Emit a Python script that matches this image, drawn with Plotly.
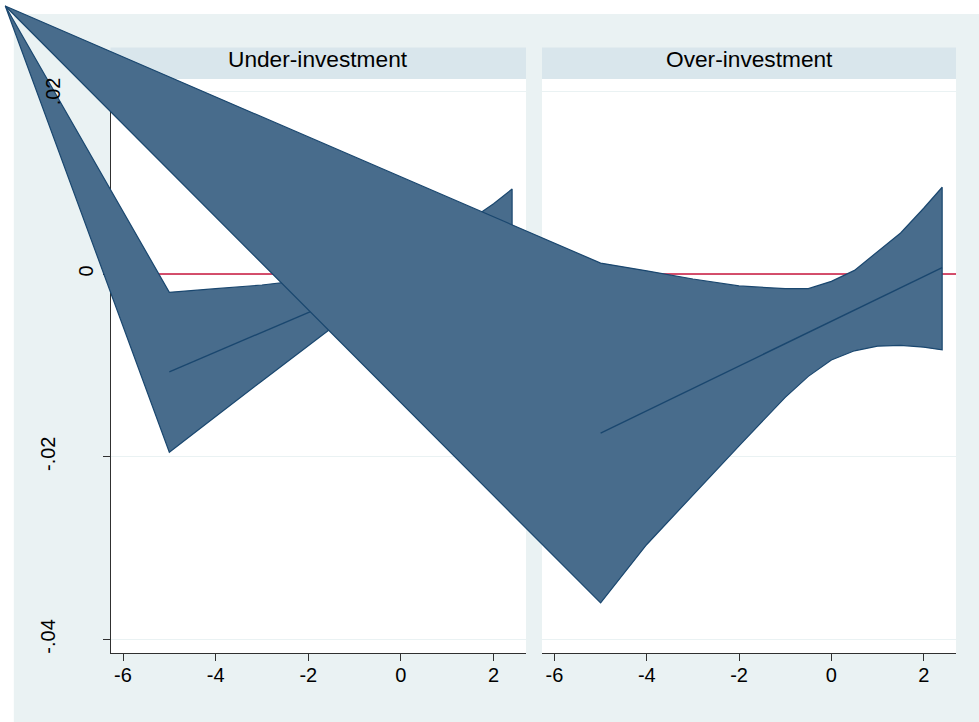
import plotly.graph_objects as go

W, H = 979, 722

# ---------------- data ----------------
panel_titles = ["Under-investment", "Over-investment"]
x_ticks = [-6, -4, -2, 0, 2]
x_tick_labels = ["-6", "-4", "-2", "0", "2"]
y_ticks = [0.02, 0, -0.02, -0.04]
y_tick_labels = [".02", "0", "-.02", "-.04"]
ref_line_y = 0

under_x = [-5, -4, -3, -2, -1, 0, 1, 2, 2.4]
under_upper = [-0.0020, -0.0016, -0.0012, -0.0006, -0.0002, 0.0010, 0.0042, 0.0077, 0.0093]
under_lower = [-0.0195, -0.0156, -0.0117, -0.0078, -0.0040, -0.0008, 0.0004, 0.0008, 0.0010]
under_fit_x = [-5, 2.4]
under_fit = [-0.0107, 0.0053]

over_x = [-5, -4, -3, -2, -1, -0.5, 0, 0.5, 1, 1.5, 2, 2.4]
over_upper = [0.0012, 0.00035, -0.00054, -0.0013, -0.0016, -0.0016, -0.0008, 0.0004, 0.0024, 0.0045, 0.0072, 0.0095]
over_lower = [-0.0360, -0.0296, -0.0242, -0.0188, -0.0135, -0.0112, -0.0094, -0.0084, -0.0079, -0.0078, -0.0080, -0.0083]
over_fit_x = [-5, 2.4]
over_fit = [-0.0174, 0.0007]

# stray first vertex of each band polygon (export glitch), in each panel's data units
under_stray_x, under_stray_y = -8.541, 0.02934
over_stray_x, over_stray_y = -17.90, 0.02934

# ---------------- style / layout ----------------
REGION = "#EAF2F3"
STRIP = "#D9E6EC"
FILL = "#486C8C"
EDGE = "#1A476F"
REDLINE = "#C8143C"
AXIS = "#303030"
FONT = "Liberation Sans, Arial, sans-serif"

x_range = [-6.27, 2.70]
y_range = [-0.04148, 0.02135]


def px_x(p):
    return p / W


def px_y(p):
    return 1 - p / H


dom_left = [px_x(110.5), px_x(526)]
dom_right = [px_x(542), px_x(956)]
dom_y = [px_y(653), px_y(79)]
strip_y = [px_y(79), px_y(47.5)]


def extend(r, d):
    span = (r[1] - r[0]) / (d[1] - d[0])
    return [r[0] - d[0] * span, r[1] + (1 - d[1]) * span]


fig = go.Figure()

# reference line y = 0 in each panel (drawn below the bands)
for xa, ya in (("x", "y"), ("x2", "y2")):
    fig.add_trace(go.Scatter(x=x_range, y=[ref_line_y, ref_line_y], xaxis=xa, yaxis=ya, mode="lines",
                             line=dict(color=REDLINE, width=1.5), showlegend=False, hoverinfo="skip"))
# empty trace so the extra label axis exists
fig.add_trace(go.Scatter(x=[None], y=[None], xaxis="x", yaxis="y6", showlegend=False, hoverinfo="skip"))


def band(xs, up, lo, sx, sy):
    bx = [sx] + list(xs) + list(xs[::-1]) + [sx]
    by = [sy] + list(up) + list(lo[::-1]) + [sy]
    return bx, by


bx, by = band(under_x, under_upper, under_lower, under_stray_x, under_stray_y)
fig.add_trace(go.Scatter(x=bx, y=by, xaxis="x3", yaxis="y3", mode="lines", fill="toself",
                         fillcolor=FILL, line=dict(color=EDGE, width=1.2),
                         showlegend=False, hoverinfo="skip"))
fig.add_trace(go.Scatter(x=under_fit_x, y=under_fit, xaxis="x3", yaxis="y3", mode="lines",
                         line=dict(color=EDGE, width=1.4), showlegend=False, hoverinfo="skip"))

bx, by = band(over_x, over_upper, over_lower, over_stray_x, over_stray_y)
fig.add_trace(go.Scatter(x=bx, y=by, xaxis="x4", yaxis="y3", mode="lines", fill="toself",
                         fillcolor=FILL, line=dict(color=EDGE, width=1.2),
                         showlegend=False, hoverinfo="skip"))
fig.add_trace(go.Scatter(x=over_fit_x, y=over_fit, xaxis="x4", yaxis="y3", mode="lines",
                         line=dict(color=EDGE, width=1.4), showlegend=False, hoverinfo="skip"))

xax_common = dict(range=x_range, tickvals=x_ticks, ticktext=x_tick_labels, ticks="outside",
                  ticklen=7, tickwidth=1, tickcolor=AXIS, showline=True, linecolor=AXIS,
                  linewidth=1, showgrid=False, zeroline=False,
                  tickfont=dict(family=FONT, size=20, color="#000000"),
                  ticklabelstandoff=-3, fixedrange=True)

yax_common = dict(range=y_range, domain=dom_y, tickvals=y_ticks, showgrid=True,
                  gridcolor=REGION, gridwidth=1.4, zeroline=False, fixedrange=True)

y_lab_a = [t if t in ("-.02", "-.04") else "" for t in y_tick_labels]
label_font = dict(family=FONT, size=20, color="#000000")

layout = dict(
    width=W, height=H, margin=dict(l=0, r=0, t=0, b=0),
    paper_bgcolor="white", plot_bgcolor="rgba(0,0,0,0)",
    showlegend=False,
    xaxis=dict(domain=dom_left, anchor="y", **xax_common),
    xaxis2=dict(domain=dom_right, anchor="y2", **xax_common),
    yaxis=dict(anchor="x", ticktext=y_lab_a, ticks="outside", ticklen=7, tickwidth=1,
               tickcolor=AXIS, showline=True, linecolor=AXIS, linewidth=1,
               tickangle=-90, tickfont=label_font, ticklabelstandoff=40, **yax_common),
    yaxis2=dict(anchor="x2", ticks="", showline=False, showticklabels=False, **yax_common),
    yaxis6=dict(overlaying="y", anchor="x", side="left", range=y_range,
                tickvals=[y_ticks[1]], ticktext=[y_tick_labels[1]], ticks="",
                showline=False, showgrid=False, zeroline=False, tickangle=-90,
                tickfont=label_font, ticklabelstandoff=13, fixedrange=True),
    xaxis3=dict(domain=[0, 1], range=extend(x_range, dom_left), anchor="y3", visible=False, fixedrange=True),
    xaxis4=dict(domain=[0, 1], range=extend(x_range, dom_right), anchor="y3", visible=False, fixedrange=True),
    yaxis3=dict(domain=[0, 1], range=extend(y_range, dom_y), anchor="x3", visible=False, fixedrange=True),
)

shapes = [
    # graph region
    dict(type="rect", xref="paper", yref="paper", x0=px_x(13.8), x1=1, y0=0, y1=px_y(14),
         fillcolor=REGION, line=dict(width=0), layer="below"),
]
annotations = [
    # top y tick label, drawn above the bands
    dict(text=y_tick_labels[0], xref="paper", yref="y", x=px_x(53), y=y_ticks[0],
         xanchor="center", yanchor="middle", textangle=-90, showarrow=False, font=label_font),
]
for xa, ya, dom, title in (("x", "y", dom_left, panel_titles[0]), ("x2", "y2", dom_right, panel_titles[1])):
    shapes.append(dict(type="rect", xref="paper", yref="paper", x0=dom[0], x1=dom[1], y0=dom_y[0], y1=dom_y[1],
                       fillcolor="white", line=dict(width=0), layer="below"))
    shapes.append(dict(type="rect", xref="paper", yref="paper", x0=dom[0], x1=dom[1],
                       y0=strip_y[0], y1=strip_y[1], fillcolor=STRIP, line=dict(width=0), layer="below"))
    annotations.append(dict(text=title, xref="paper", yref="paper", x=(dom[0] + dom[1]) / 2,
                            y=(strip_y[0] + strip_y[1]) / 2, xanchor="center", yanchor="middle",
                            yshift=4, showarrow=False,
                            font=dict(family=FONT, size=22.7, color="#000000")))

layout["shapes"] = shapes
layout["annotations"] = annotations
fig.update_layout(**layout)

fig.write_html("out.html")
